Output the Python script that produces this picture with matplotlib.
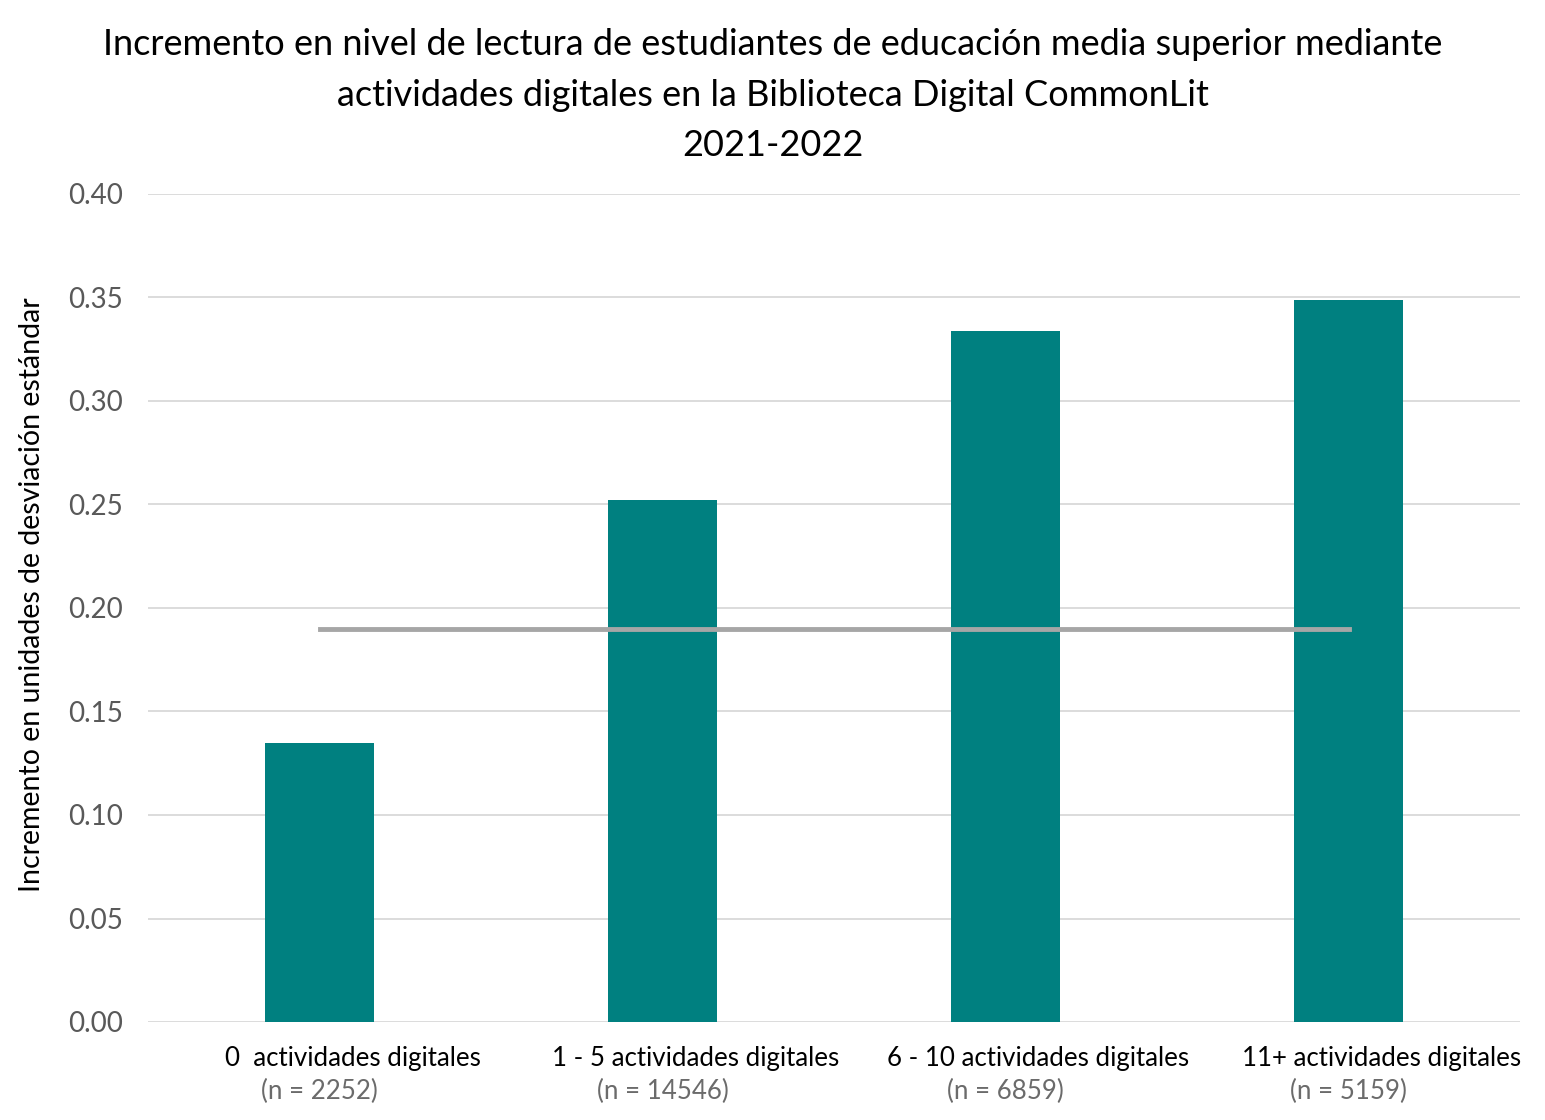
import numpy as np
import matplotlib.pyplot as plt
from matplotlib.transforms import blended_transform_factory, offset_copy

plt.rcParams['font.family'] = ['Lato', 'DejaVu Sans']

# --- datos ---
categorias = ['0  actividades digitales', '1 - 5 actividades digitales',
              '6 - 10 actividades digitales', '11+ actividades digitales']
n_estudiantes = ['(n = 2252)', '(n = 14546)', '(n = 6859)', '(n = 5159)']
incremento = [0.135, 0.252, 0.334, 0.349]
promedio = 0.19

fig = plt.figure(figsize=(15.45, 11.2), dpi=100)
ax = fig.add_axes([148/1545, 1 - 1022/1120, (1520-148)/1545, (1022-194)/1120])

x = np.arange(len(categorias))
ax.bar(x, incremento, width=0.315, color='#008080', zorder=3)
ax.plot([x[0], x[-1]], [promedio, promedio], color='#a6a6a6', lw=3.5, zorder=4)

ax.set_xlim(-0.5, len(categorias) - 0.5)
ax.set_ylim(0, 0.40)
ax.set_yticks(np.arange(0, 0.401, 0.05))
ax.set_yticklabels([f'{v:.2f}' for v in np.arange(0, 0.401, 0.05)])
ax.tick_params(axis='y', labelsize=20, colors='#595959', length=0, pad=18)
ax.tick_params(axis='x', length=0, labelbottom=False)
ax.grid(axis='y', color='#d9d9d9', lw=1.3, zorder=0)
for s in ax.spines.values():
    s.set_visible(False)

ax.set_ylabel('Incremento en unidades de desviación estándar', fontsize=20.5, color='black')
ax.yaxis.set_label_coords(-0.075, 0.516)

# etiquetas de categorías en dos líneas
trans = blended_transform_factory(ax.transData, ax.transAxes)
for i in x:
    ax.text(i, 0, categorias[i], transform=offset_copy(trans, fig=fig, x=33, y=-24, units='dots'),
            ha='center', va='top', fontsize=18.6, color='black')
    ax.text(i, 0, n_estudiantes[i], transform=offset_copy(trans, fig=fig, x=0, y=-57, units='dots'),
            ha='center', va='top', fontsize=18.6, color='#6b6b6b')

fig.text(0.5, 0.975,
         'Incremento en nivel de lectura de estudiantes de educación media superior mediante\n'
         'actividades digitales en la Biblioteca Digital CommonLit\n2021-2022',
         ha='center', va='top', fontsize=26, linespacing=1.65)

fig.savefig('out.png', dpi=100)
